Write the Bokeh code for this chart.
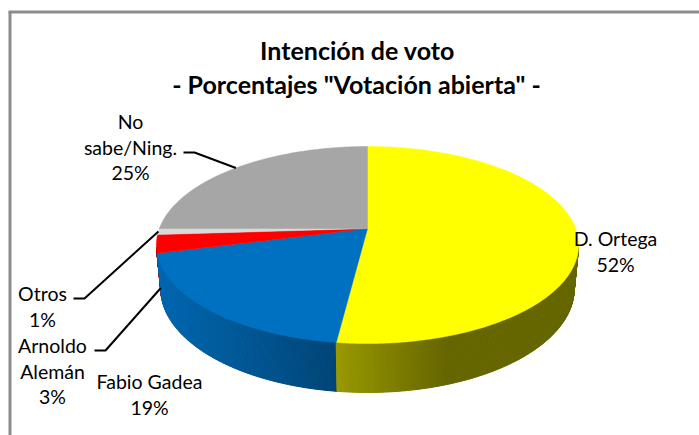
import math
from bokeh.plotting import figure
from bokeh.models import Range1d
from bokeh.core.properties import value
from bokeh.embed import file_html
from bokeh.resources import INLINE

# ---------------- data ----------------
categories = ["D. Ortega", "Fabio Gadea", "Arnoldo Alemán", "Otros", "No sabe/Ning."]
label_lines = [["D. Ortega"], ["Fabio Gadea"], ["Arnoldo", "Alemán"], ["Otros"], ["No", "sabe/Ning."]]
values = [52, 19, 3, 1, 25]
title_lines = ["Intención de voto", "- Porcentajes \"Votación abierta\" -"]

# ---------------- style ----------------
colors = ["#FFFF00", "#0070C0", "#FF0000", "#D9D9D9", "#A6A6A6"]
side_shade = [(0.60, 0.40, 0.45), (0.92, 0.62, 1.0), (0.80, 0.60, 1.0), (0.85, 0.65, 1.0), (0.8, 0.6, 1.0)]
label_pos = [(615, 238), (149, 381), (52, 345), (42, 293), (130, 121)]
line_gap = 25.7
# leader: slice index -> (label-side x, y, rim level 0=top 1=bottom)
leaders = {2: (94, 350, 1), 3: (73, 298, 0), 4: (183, 152, 0)}
FONT = "Lato"

# 3D projection parameters (screen pixels)
CX, CY = 367.0, 228.0
F = 1103.0
L = 5.30
SA, CA = 0.46, 0.888
H = 0.239

W, HGT = 699, 435


def proj(theta_deg, z):
    t = math.radians(theta_deg)
    X, Y = math.sin(t), math.cos(t)
    depth = L + Y * CA - z * SA
    ye = Y * SA + z * CA
    return CX + F * X / depth, CY - F * ye / depth


def hexcol(c):
    c = c.lstrip("#")
    return tuple(int(c[i:i + 2], 16) for i in (0, 2, 4))


def shade(c, f):
    r, g, b = hexcol(c)
    return "#%02x%02x%02x" % (int(min(255, r * f)), int(min(255, g * f)), int(min(255, b * f)))


p = figure(width=W, height=HGT, output_backend="svg", toolbar_location=None,
           x_range=Range1d(0, W), y_range=Range1d(HGT, 0),
           min_border=0, outline_line_color=None)
p.axis.visible = False
p.xgrid.visible = False
p.ygrid.visible = False
p.background_fill_color = "white"
p.border_fill_color = "white"

# angles
total = float(sum(values))
starts, ends = [], []
acc = 0.0
for v in values:
    starts.append(acc * 360 / total)
    acc += v
    ends.append(acc * 360 / total)

# ---------------- side walls ----------------
limit = -1.0 / (L * CA) + 0.02
strips = []
step = 0.5
for i, (a0, a1) in enumerate(zip(starts, ends)):
    segs = []
    a = a0
    while a < a1 - 1e-9:
        b = min(a + step, a1)
        mid = (a + b) / 2
        if math.cos(math.radians(mid)) < limit:
            segs.append((a, b))
        a = b
    if not segs:
        continue
    xs_all = [proj((s[0] + s[1]) / 2, 0)[0] for s in segs]
    xl, xr = min(xs_all), max(xs_all)
    fl, fr, frac = side_shade[i]
    for (a, b) in segs:
        pts = [proj(a, 0), proj(b, 0), proj(b, -H), proj(a, -H)]
        xm = proj((a + b) / 2, 0)[0]
        tt = 0.0 if xr == xl else (xm - xl) / (xr - xl)
        tt = min(1.0, tt / frac)
        f = fl + (fr - fl) * tt
        depth = math.cos(math.radians((a + b) / 2))
        strips.append((depth, [q[0] for q in pts], [q[1] for q in pts], shade(colors[i], f)))

strips.sort(key=lambda s: -s[0])
p.patches([s[1] for s in strips], [s[2] for s in strips], fill_color=[s[3] for s in strips],
          line_color=[s[3] for s in strips], line_width=1)

# ---------------- top face ----------------
txs, tys = [], []
for i, (a0, a1) in enumerate(zip(starts, ends)):
    n = max(2, int((a1 - a0) / 0.5) + 1)
    xs, ys = [CX], [CY]
    for k in range(n + 1):
        x, y = proj(a0 + (a1 - a0) * k / n, 0)
        xs.append(x)
        ys.append(y)
    txs.append(xs)
    tys.append(ys)
p.patches(txs, tys, fill_color=colors, line_color=colors, line_width=0.5)

# ---------------- leaders ----------------
for i, (lx, ly, lvl) in leaders.items():
    mid = (starts[i] + ends[i]) / 2
    ex, ey = proj(mid, -H if lvl else 0)
    p.line([lx, lx + 11, ex], [ly, ly, ey], line_color="black", line_width=2)

# ---------------- labels ----------------
tx, ty, tt = [], [], []
for i, lines in enumerate(label_lines):
    cx, cy = label_pos[i]
    allines = lines + ["%d%%" % values[i]]
    for k, s in enumerate(allines):
        tx.append(cx)
        ty.append(cy + k * line_gap)
        tt.append(s)
p.text(tx, ty, text=tt, text_align="center", text_baseline="middle",
       text_font=value(FONT), text_font_size="19.5px", text_color="black")

# ---------------- title ----------------
p.text([357, 356], [49, 83], text=title_lines, text_align="center", text_baseline="middle",
       text_font=value(FONT), text_font_size="25px", text_font_style="bold", text_color="black")

# ---------------- frame ----------------
p.line([9.5, 9.5], [HGT, 11.5], line_color="#8c8c8c", line_width=3)
p.line([8, W], [11.5, 11.5], line_color="#8c8c8c", line_width=3)

open("out.html", "w").write(file_html(p, INLINE))
